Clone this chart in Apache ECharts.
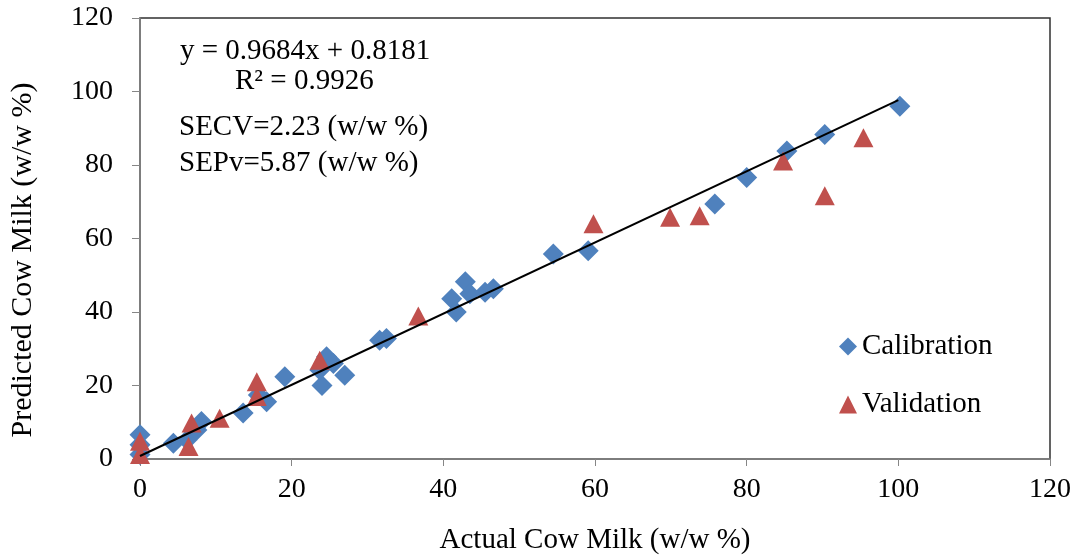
<!DOCTYPE html>
<html><head><meta charset="utf-8">
<script src="https://cdn.jsdelivr.net/npm/echarts@6/dist/echarts.min.js"></script>
<style>html,body{margin:0;padding:0;background:#fff}#c{width:1087px;height:560px}</style>
</head><body><div id="c"></div>
<script>
var calibX = [0, 0, 0, 4.4, 6.2, 7.5, 8.1, 13.6, 15.6, 16.7, 19.1, 23.7, 24.0, 24.6, 25.5, 27.0, 31.6, 32.5, 41.1, 41.7, 42.9, 43.5, 45.5, 46.6, 54.5, 59.1, 75.8, 80.0, 85.3, 90.3, 100.2];
var calibY = [6.6, 3.9, 1.2, 4.3, 5.2, 7.9, 10.2, 12.5, 17.4, 15.6, 22.4, 24.2, 20.0, 27.8, 26.0, 22.8, 32.3, 32.8, 43.6, 40.0, 48.2, 45.0, 45.4, 46.3, 55.8, 56.7, 69.4, 76.6, 83.8, 88.3, 96.0];
var validX = [0, 0, 6.4, 6.8, 10.5, 15.4, 15.4, 23.7, 36.7, 59.8, 69.9, 73.8, 84.8, 90.3, 95.4];
var validY = [4.8, 1.2, 3.4, 9.8, 11.1, 21.0, 17.0, 26.9, 38.9, 64.0, 65.8, 66.2, 81.1, 71.6, 87.4];
var trendX = [0, 100];
var trendY = [0.82, 97.66];
var xTicks = [0, 20, 40, 60, 80, 100, 120];
var yTicks = [0, 20, 40, 60, 80, 100, 120];
var xTitle = 'Actual Cow Milk (w/w %)';
var yTitle = 'Predicted Cow Milk (w/w %)';
var annotations = ['y = 0.9684x + 0.8181', 'R\u00b2 = 0.9926', 'SECV=2.23 (w/w %)', 'SEPv=5.87 (w/w %)'];

function pairs(a, b) { return a.map(function (v, i) { return [v, b[i]]; }); }
var font = '"Liberation Serif", "Times New Roman", serif';
var chart = echarts.init(document.getElementById('c'));
chart.setOption({
  animation: false,
  textStyle: { fontFamily: font },
  grid: { left: 140, right: 37, top: 18, bottom: 99, show: true, borderColor: '#303030', borderWidth: 1.5 },
  xAxis: {
    type: 'value', min: 0, max: 120, interval: 20,
    name: xTitle, nameLocation: 'middle', nameGap: 67,
    nameTextStyle: { fontFamily: font, fontSize: 29, color: '#000' },
    axisLine: { lineStyle: { color: '#868686', width: 1.5 } },
    axisTick: { show: true, length: 7, lineStyle: { color: '#868686' } },
    axisLabel: { fontFamily: font, fontSize: 28, color: '#000', margin: 17, formatter: function (v) { return xTicks.indexOf(v) >= 0 ? String(v) : ''; } },
    splitLine: { show: false }
  },
  yAxis: {
    type: 'value', min: 0, max: 120, interval: 20,
    axisLine: { show: true, lineStyle: { color: '#868686', width: 1.5 } },
    axisTick: { show: true, length: 8, lineStyle: { color: '#868686' } },
    axisLabel: { fontFamily: font, fontSize: 28, color: '#000', margin: 27, formatter: function (v) { return yTicks.indexOf(v) >= 0 ? String(v) : ''; } },
    splitLine: { show: false }
  },
  legend: {
    orient: 'vertical', left: 839, top: 332, padding: 0, itemGap: 29, itemWidth: 18, itemHeight: 18,
    textStyle: { fontFamily: font, fontSize: 29, color: '#000' },
    data: [{ name: 'Calibration', icon: 'diamond' }, { name: 'Validation', icon: 'triangle' }]
  },
  graphic: [
    { type: 'text', left: 180, top: 37, style: { text: annotations[0], font: '29px ' + font, fill: '#000' } },
    { type: 'text', left: 235, top: 67, style: { text: annotations[1], font: '29px ' + font, fill: '#000' } },
    { type: 'text', left: 179, top: 113, style: { text: annotations[2], font: '29px ' + font, fill: '#000' } },
    { type: 'text', left: 179, top: 149, style: { text: annotations[3], font: '29px ' + font, fill: '#000' } },
    { type: 'text', x: 23, y: 260, rotation: Math.PI / 2, style: { text: yTitle, font: '30px ' + font, fill: '#000', align: 'center', verticalAlign: 'middle' } }
  ],
  series: [
    { name: 'Trend', type: 'line', data: pairs(trendX, trendY), symbol: 'none', lineStyle: { color: '#000', width: 2 }, z: 5, silent: true },
    { name: 'Calibration', type: 'scatter', data: pairs(calibX, calibY), symbol: 'diamond', symbolSize: [21, 21], itemStyle: { color: '#4F81BD', opacity: 1 }, z: 3 },
    { name: 'Validation', type: 'scatter', data: pairs(validX, validY), symbol: 'triangle', symbolSize: [20, 19], itemStyle: { color: '#C0504D', opacity: 1 }, z: 4 }
  ]
});
</script></body></html>
